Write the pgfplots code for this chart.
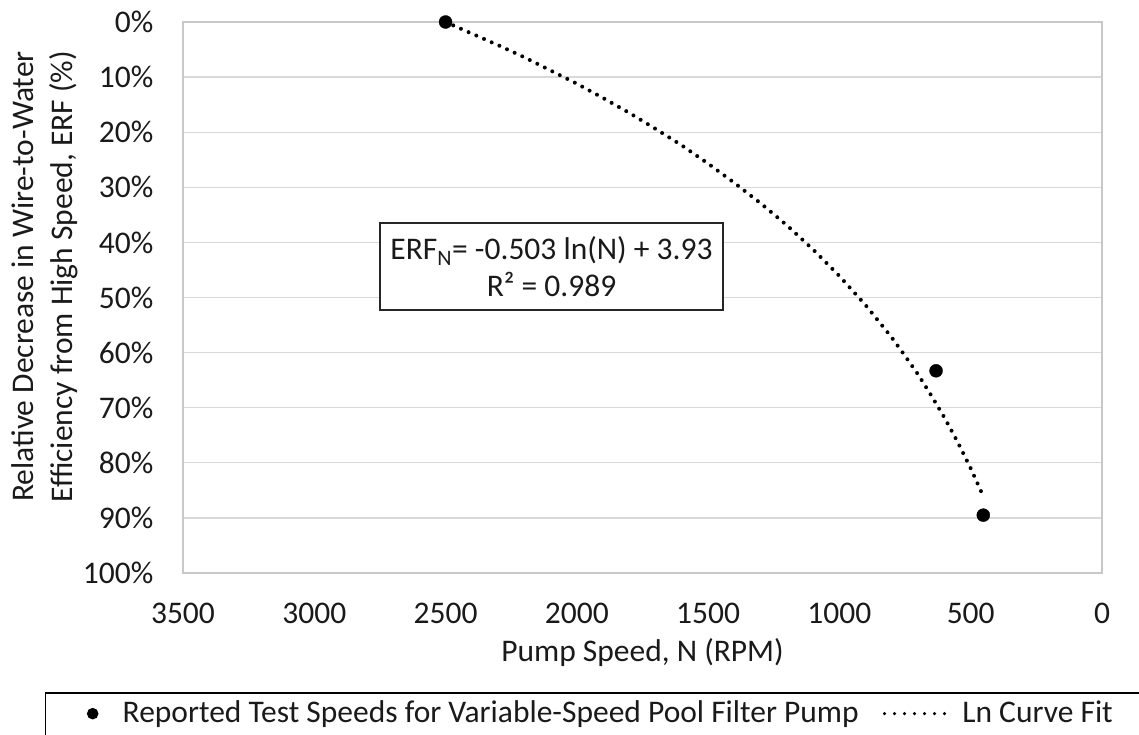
\documentclass[border=0pt]{standalone}
\usepackage{fontspec}
\setmainfont{Carlito}
\usepackage{pgfplots}
\pgfplotsset{compat=1.18}
\newcommand\chf{\fontsize{31.5}{38}\selectfont}
\definecolor{gridc}{HTML}{D9D9D9}
\definecolor{borderc}{HTML}{C8C8C8}
\definecolor{txt}{HTML}{1A1A1A}
\pgfplotsset{
  markleg/.style={legend image code/.code={\draw[##1, mark size=5pt] plot coordinates {(0pt,9pt)};}},
  lineleg/.style={legend image code/.code={\draw[##1, line width=3.5pt, dash pattern=on 0pt off 10pt] (0pt,9pt) -- (61pt,9pt);}},
}
\begin{document}
\begin{tikzpicture}
\begin{axis}[
  at={(0pt,0pt)}, anchor=south west,
  scale only axis, width=919pt, height=551pt,
  xmin=0, xmax=3500, ymin=0, ymax=100,
  x dir=reverse, y dir=reverse,
  clip=false,
  xtick={0,500,...,3500}, ytick={0,10,...,100},
  ymajorgrids, major grid style={gridc, line width=1.3pt},
  axis line style={borderc, line width=1.5pt},
  major tick length=0pt,
  tick label style={font=\chf, inner sep=0pt, text=txt},
  /pgf/number format/assume math mode=true,
  /pgf/number format/1000 sep={},
  scaled x ticks=false,
  yticklabel={\pgfmathprintnumber{\tick}\%},
  yticklabel style={xshift=-29.5pt},
  xticklabel style={yshift=-30pt},
  xlabel={Pump Speed, N (RPM)},
  xlabel style={font=\chf, text=txt, inner sep=0pt, at={(axis description cs:0.5,0)}, anchor=center, yshift=-80pt},
  ylabel={Relative Decrease in Wire-to-Water\\Efficiency from High Speed, ERF (\%)},
  ylabel style={font=\fontsize{31.5}{39}\selectfont, text=txt, align=center, inner sep=0pt, at={(axis description cs:-0.150,0.538)}, anchor=center},
  legend columns=2,
  legend style={at={(axis description cs:-0.1502,-0.2160)}, anchor=north west,
    draw=black, line width=1.5pt, font=\chf, text=txt,
    inner xsep=42pt, inner ysep=8pt,
    cells={anchor=base west},
    nodes={inner sep=0pt, text depth=30pt},
    /tikz/column 1/.style={column sep=25pt},
    /tikz/column 2/.style={column sep=24pt},
    /tikz/column 3/.style={column sep=15pt}},
]
\addplot[only marks, mark=*, mark size=6.5pt, black, markleg]
  coordinates {(2500,0) (632,63.3) (452,89.5)};
\addlegendentry{Reported Test Speeds for Variable-Speed Pool Filter Pump}
\addplot[black, line width=4pt, line cap=round, dash pattern=on 0pt off 8.4pt, lineleg]
  coordinates {
  (2500,0.0) (2400,2.1) (2300,4.2) (2200,6.4) (2100,8.8) (2000,11.2)
  (1900,13.8) (1800,16.5) (1700,19.4) (1600,22.4) (1500,25.7) (1400,29.2)
  (1300,32.9) (1200,36.9) (1100,41.3) (1000,46.1) (900,51.4) (800,57.3)
  (750,60.6) (700,64.0) (650,67.8) (600,71.8) (550,76.2) (500,81.0) (450,86.3)};
\addlegendentry{Ln Curve Fit}
\node[draw=black!85, line width=1.5pt, fill=white, align=center,
  font=\fontsize{31.5}{37}\selectfont, text=txt, minimum width=343pt, minimum height=87pt, inner sep=0pt]
  at (axis description cs:0.401,0.556) {ERF\textsubscript{N}= -0.503 ln(N) + 3.93\\R² = 0.989};
\end{axis}
\pgfresetboundingbox
\useasboundingbox (-183pt,-161pt) rectangle (956pt,573pt);
\end{tikzpicture}
\end{document}
